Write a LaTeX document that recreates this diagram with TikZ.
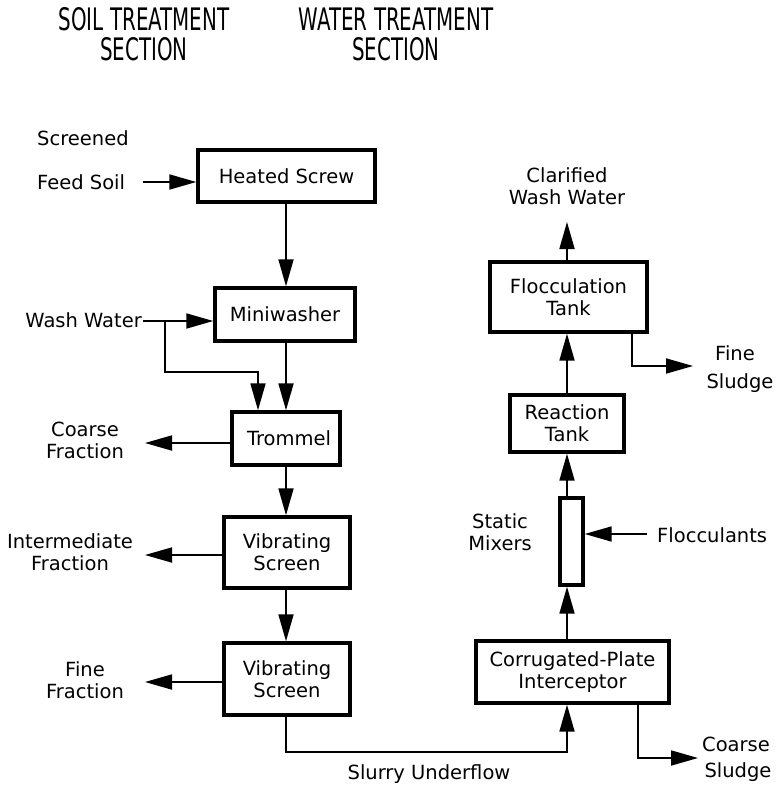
\documentclass[tikz,border=0pt]{standalone}
\usepackage{fontspec}
\setmainfont{DejaVu Sans}
\newfontfamily\titlefont[FakeStretch=0.64]{DejaVu Sans}
\usetikzlibrary{arrows.meta}
\begin{document}
\begin{tikzpicture}[x=1pt,y=-1pt,
  txt/.style={font=\fontsize{19.5}{22}\selectfont, inner sep=0pt, align=center},
  ttl/.style={font=\titlefont\fontsize{31}{30}\selectfont, inner sep=0pt, align=center},
  box/.style={txt, draw, line width=3.4pt},
  arr/.style={line width=1.8pt, -{Triangle[length=27pt,width=15pt]}},
  ln/.style={line width=1.8pt}]
\useasboundingbox (0,0) rectangle (776,786);

% titles
\node[ttl] (t1) at (144,34) {SOIL TREATMENT\\SECTION};
\node[ttl] (t2) at (396,34) {WATER TREATMENT\\SECTION};

% left column boxes
\node[box, minimum width=177pt, minimum height=52pt] (hs) at (286.5,176) {Heated Screw};
\node[box, minimum width=140pt, minimum height=53pt] (mw) at (285,314.5) {Miniwasher};
\node[box, minimum width=108pt, minimum height=53pt] (tr) at (286,438.5) {\hspace*{6pt}Trommel};
\node[box, minimum width=126pt, minimum height=71pt] (vs1) at (287,552.5) {Vibrating\\Screen};
\node[box, minimum width=126pt, minimum height=72pt] (vs2) at (287,679) {Vibrating\\Screen};

% right column boxes
\node[box, minimum width=193pt, minimum height=62pt] (cpi) at (572.5,672) {Corrugated-Plate\\Interceptor};
\node[draw, line width=3.4pt, minimum width=23pt, minimum height=87pt, inner sep=0pt] (sm) at (571.5,541.5) {};
\node[box, minimum width=114pt, minimum height=57pt] (rt) at (567,423.5) {Reaction\\Tank};
\node[box, minimum width=157pt, minimum height=70pt] (ft) at (568.5,297) {Flocculation\\Tank};

% labels
\node[txt, anchor=west] (scr) at (37,138) {Screened};
\node[txt, anchor=west] (fsl) at (37,182) {Feed Soil};
\node[txt, anchor=east] (wwl) at (142,320) {Wash Water};
\node[txt] (cfl) at (85,440) {Coarse\\Fraction};
\node[txt] (ifl) at (70,552) {Intermediate\\Fraction};
\node[txt] (ffl) at (85,680) {Fine\\Fraction};
\node[txt] (sul) at (429,774) {Slurry Underflow};
\node[txt] (cwl) at (567,186) {Clarified\\Wash Water};
\node[txt] (fsu1) at (735,353) {Fine};
\node[txt] (fsu2) at (740,383) {Sludge};
\node[txt] (csu1) at (736,744) {Coarse};
\node[txt] (csu2) at (738,772) {Sludge};
\node[txt] (sml) at (500,532) {Static\\Mixers};
\node[txt, anchor=west] (flo) at (657,535) {Flocculants};

% coordinates
\coordinate (lx) at (286,0);
\coordinate (rx) at (567,0);
\coordinate (fsa) at (143,182);
\coordinate (wwa) at (143,321);
\coordinate (wj) at (165,321);
\coordinate (wk) at (258,372);
\coordinate (cfa) at (145,443);
\coordinate (ifa) at (145,555);
\coordinate (ffa) at (145,682);
\coordinate (su) at (567,752);
\coordinate (cs1) at (638,758);
\coordinate (cs2) at (698,758);
\coordinate (fs1) at (632,366);
\coordinate (fs2) at (693,366);
\coordinate (fla) at (647,534);
\coordinate (cwa) at (567,222);

% left connectors
\draw[arr] (fsa) -- (fsa -| hs.west);
\draw[arr] (lx |- hs.south) -- (lx |- mw.north);
\draw[arr] (wwa) -- (wwa -| mw.west);
\draw[arr] (wj) |- (wk) -- (wk |- tr.north);
\draw[arr] (lx |- mw.south) -- (lx |- tr.north);
\draw[arr] (cfa -| tr.west) -- (cfa);
\draw[arr] (lx |- tr.south) -- (lx |- vs1.north);
\draw[arr] (ifa -| vs1.west) -- (ifa);
\draw[arr] (lx |- vs1.south) -- (lx |- vs2.north);
\draw[arr] (ffa -| vs2.west) -- (ffa);

% slurry
\draw[arr] (lx |- vs2.south) |- (su) -- (su |- cpi.south);

% right connectors
\draw[arr] (rx |- cpi.north) -- (rx |- sm.south);
\draw[arr] (rx |- sm.north) -- (rx |- rt.south);
\draw[arr] (rx |- rt.north) -- (rx |- ft.south);
\draw[arr] (rx |- ft.north) -- (cwa);
\draw[arr] (fla) -- (fla -| sm.east);
\draw[arr] (fs1 |- ft.south) -- (fs1) -- (fs2);
\draw[arr] (cs1 |- cpi.south) -- (cs1) -- (cs2);
\end{tikzpicture}
\end{document}
